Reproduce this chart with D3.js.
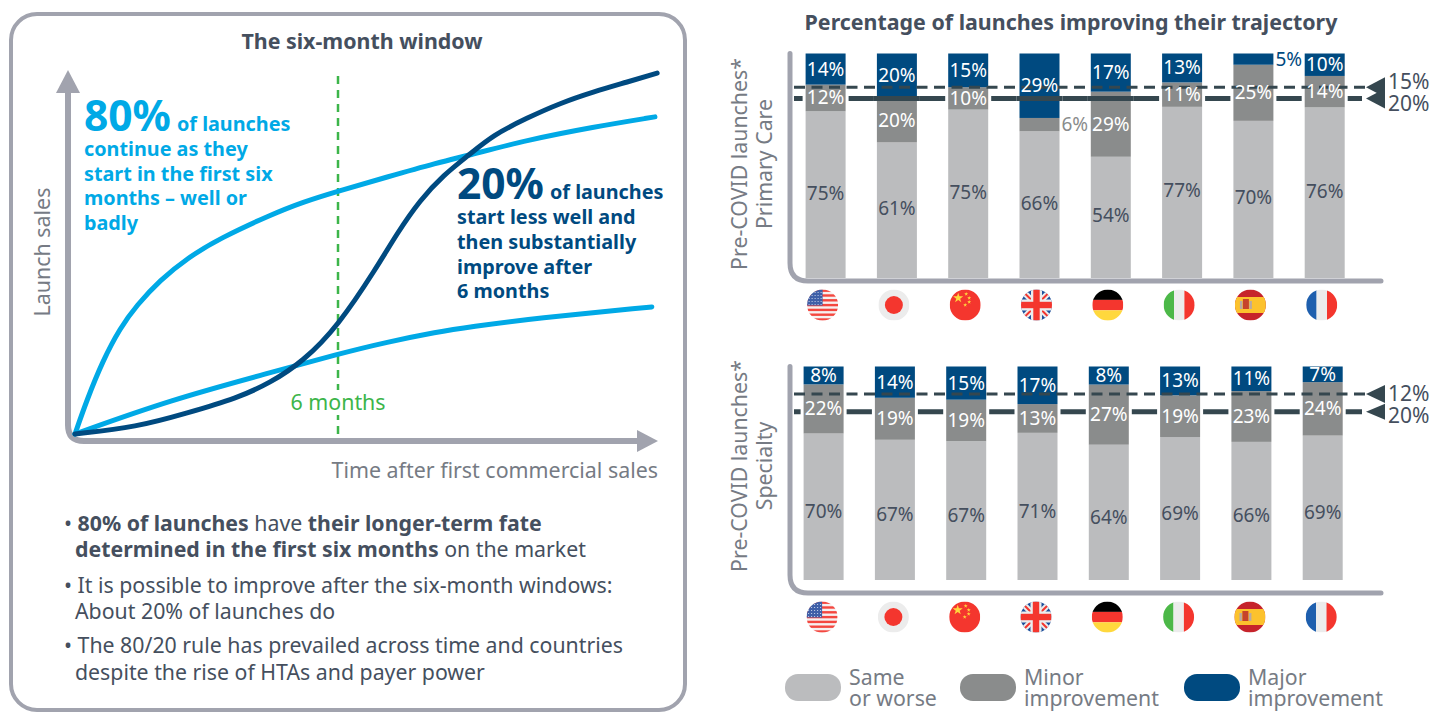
<!DOCTYPE html>
<html>
    <head>
        <meta charset='UTF-8'>
        <title>Six-month window</title>
        <script src='https://d3js.org/d3.v7.min.js'></script>
        <style type='text/css'>
        html, body { margin: 0; padding: 0; background: #fff; }
        svg { display: block; font-family: "Noto Sans", sans-serif; }
        </style>
    </head>
    <body>
        <div id="container"></div>
    <script>
        // bar data
        var countries = ["US", "JP", "CN", "UK", "DE", "IT", "ES", "FR"];
        var seriesKeys = ["same", "minor", "major"];
        var legendLabels = [["Same", "or worse"], ["Minor", "improvement"], ["Major", "improvement"]];

        var pcSame  = [75, 61, 75, 66, 54, 77, 70, 76];
        var pcMinor = [12, 20, 10, 6, 29, 11, 25, 14];
        var pcMajor = [14, 20, 15, 29, 17, 13, 5, 10];
        var pcRefs  = [15, 20];

        var spSame  = [70, 67, 67, 71, 64, 69, 66, 69];
        var spMinor = [22, 19, 19, 13, 27, 19, 23, 24];
        var spMajor = [8, 14, 15, 17, 8, 13, 11, 7];
        var spRefs  = [12, 20];

        // curves of the left chart: months after launch / sales index
        var upperMonths = [0, 0.27, 0.64, 1.03, 1.41, 1.94, 2.56, 3.31, 4.45, 5.2, 6, 7.12, 8.26, 9.01, 10.31, 11.82, 13.23];
        var upperSales  = [0, 9.4, 20.4, 29.3, 35.6, 42.5, 48.6, 54.1, 60.5, 64.1, 67.1, 71, 74.9, 77.1, 81.2, 84.8, 87.6];
        var lowerMonths = [0, 2.17, 4.45, 6, 7.12, 8.26, 9.01, 10.5, 13.16];
        var lowerSales  = [0, 9.4, 16.9, 22.1, 25.4, 28.2, 29.6, 32, 35.1];
        var darkMonths  = [0, 1.41, 2.56, 3.7, 4.45, 5.2, 6, 6.89, 7.35, 7.87, 8.4, 9.01, 9.54, 10.31, 11.07, 11.82, 12.59, 13.28];
        var darkSales   = [0, 1.9, 5.8, 9.9, 14.1, 20, 29.8, 46.1, 55.5, 64.6, 71.5, 77.3, 82.6, 87.3, 91.4, 94.5, 97.2, 99.7];

        var GREY_AXIS = "#a1a3ae", TEXT_DARK = "#454f5e", TEXT_GREY = "#767b84", LINE_DARK = "#35474f";
        var CYAN = "#00a9e6", NAVY = "#004a80", GREEN = "#3cb54a";
        var colors = {same: "#bbbcbe", minor: "#8a8c8c", major: "#004a80"};

        var svg = d3.select("#container").append("svg")
            .attr("width", 1445)
            .attr("height", 713);
        var defs = svg.append("defs");

        function addText(parent, x, y, str, size, fill, weight, anchor) {
            return parent.append("text")
                .attr("x", x).attr("y", y)
                .attr("font-size", size)
                .attr("font-weight", weight || 400)
                .attr("text-anchor", anchor || "start")
                .attr("dominant-baseline", "central")
                .attr("fill", fill)
                .text(str);
        }

        function rotatedText(x, y, str, size, fill) {
            svg.append("text")
                .attr("transform", "translate(" + x + "," + y + ") rotate(-90)")
                .attr("font-size", size)
                .attr("text-anchor", "middle")
                .attr("dominant-baseline", "central")
                .attr("fill", fill)
                .text(str);
        }

        // L shaped axis with a rounded corner
        function lAxis(x, top, y, right, radius) {
            var p = d3.path();
            p.moveTo(x, top);
            p.lineTo(x, y - radius);
            p.quadraticCurveTo(x, y, x + radius, y);
            p.lineTo(right, y);
            return p.toString();
        }

        /* ---------- left panel ---------- */
        svg.append("rect")
            .attr("x", 11).attr("y", 14)
            .attr("width", 674).attr("height", 696)
            .attr("rx", 26)
            .attr("fill", "#fff")
            .attr("stroke", GREY_AXIS)
            .attr("stroke-width", 4);

        addText(svg, 362, 40, "The six-month window", 21.4, TEXT_DARK, 700, "middle");

        var x = d3.scaleLinear().domain([0, 13.3]).range([75, 658]);
        var y = d3.scaleLinear().domain([0, 100]).range([434, 72]);

        svg.append("path")
            .attr("d", lAxis(68, 90, 441, 640, 16))
            .attr("fill", "none")
            .attr("stroke", GREY_AXIS)
            .attr("stroke-width", 6);
        svg.append("path").attr("d", "M68,70L80,93L56,93Z").attr("fill", GREY_AXIS);
        svg.append("path").attr("d", "M658,441L637,430L637,452Z").attr("fill", GREY_AXIS);

        svg.append("line")
            .attr("x1", x(6)).attr("x2", x(6))
            .attr("y1", 76).attr("y2", 439)
            .attr("stroke", GREEN)
            .attr("stroke-width", 2.5)
            .attr("stroke-dasharray", "8,6");

        var curve = d3.line()
            .x(function(d) { return x(d[0]); })
            .y(function(d) { return y(d[1]); })
            .curve(d3.curveBasis);

        [[upperMonths, upperSales, CYAN], [lowerMonths, lowerSales, CYAN], [darkMonths, darkSales, NAVY]].forEach(function(c) {
            svg.append("path")
                .attr("d", curve(d3.zip(c[0], c[1])))
                .attr("fill", "none")
                .attr("stroke", c[2])
                .attr("stroke-width", 5)
                .attr("stroke-linecap", "round");
        });

        svg.append("rect").attr("x", 288).attr("y", 390).attr("width", 100).attr("height", 25).attr("fill", "#fff");
        addText(svg, 338, 401, "6 months", 21.4, GREEN, 400, "middle");

        rotatedText(41, 252, "Launch sales", 21.4, TEXT_GREY);
        addText(svg, 658, 469, "Time after first commercial sales", 21.4, TEXT_GREY, 400, "end");

        // callouts
        function callout(left, top, color, big, lines, step) {
            var t = svg.append("text")
                .attr("x", left).attr("y", top)
                .attr("fill", color)
                .attr("font-weight", 700);
            t.append("tspan").attr("font-size", 42.5).text(big);
            t.append("tspan").attr("font-size", 19.8).attr("dx", 6).text("of launches");
            lines.forEach(function(str, i) {
                svg.append("text")
                    .attr("x", left).attr("y", top + 25 + step * i)
                    .attr("fill", color)
                    .attr("font-size", 19.8)
                    .attr("font-weight", 700)
                    .text(str);
            });
        }
        callout(84, 131, CYAN, "80%", ["continue as they", "start in the first six", "months \u2013 well or", "badly"], 24.7);
        callout(457, 199, NAVY, "20%", ["start less well and", "then substantially", "improve after", "6 months"], 24.8);

        // bullets
        var bullets = [
            [64, 521.5, [["\u2022 ", 400], ["80% of launches", 700], [" have ", 400], ["their longer-term fate", 700]]],
            [75, 547.5, [["determined in the first six months", 700], [" on the market", 400]]],
            [64, 583.5, [["\u2022 It is possible to improve after the six-month windows:", 400]]],
            [75, 609.5, [["About 20% of launches do", 400]]],
            [64, 643.5, [["\u2022 The 80/20 rule has prevailed across time and countries", 400]]],
            [75, 670.5, [["despite the rise of HTAs and payer power", 400]]]
        ];
        bullets.forEach(function(b) {
            var t = addText(svg, b[0], b[1], "", 21.3, TEXT_DARK);
            b[2].forEach(function(run) {
                t.append("tspan").attr("font-weight", run[1]).text(run[0]);
            });
        });

        /* ---------- right panels ---------- */
        addText(svg, 1071, 21, "Percentage of launches improving their trajectory", 21.4, TEXT_DARK, 700, "middle");

        function drawFlag(g, code, id) {
            var r = 15.5;
            defs.append("clipPath").attr("id", id).append("circle").attr("r", r);
            var f = g.append("g").attr("clip-path", "url(#" + id + ")");
            function box(bx, by, w, h, fill) {
                f.append("rect").attr("x", bx).attr("y", by).attr("width", w).attr("height", h).attr("fill", fill);
            }
            var red = "#f4362e", white = "#ececec";
            if (code == "US") {
                box(-r, -r, 2 * r, 2 * r, "#f6f0f0");
                d3.range(7).forEach(function(i) {
                    box(-r, -r + i * 4.8, 2 * r, 2.4, "#f4473f");
                });
                box(-r, -r, 15.5, 16, "#3f5fa8");
                d3.range(5).forEach(function(i) {
                    d3.range(5).forEach(function(j) {
                        box(-14 + i * 3, -13 + j * 3, 1, 1, "#c8d2ea");
                    });
                });
            }
            else if (code == "JP") {
                box(-r, -r, 2 * r, 2 * r, white);
                f.append("circle").attr("r", 9).attr("fill", red);
            }
            else if (code == "CN") {
                box(-r, -r, 2 * r, 2 * r, red);
                var star = d3.symbol().type(d3.symbolStar);
                [[-7, -7, 32], [1, -11, 5], [4, -7, 5], [4, -3, 5], [0, 0, 5]].forEach(function(s) {
                    f.append("path")
                        .attr("d", star.size(s[2])())
                        .attr("transform", "translate(" + s[0] + "," + s[1] + ")")
                        .attr("fill", "#ffd83d");
                });
            }
            else if (code == "UK") {
                box(-r, -r, 2 * r, 2 * r, "#1c4f9c");
                f.append("path").attr("d", "M-16,-16L16,16M16,-16L-16,16").attr("stroke", white).attr("stroke-width", 6);
                f.append("path").attr("d", "M-16,-16L16,16M16,-16L-16,16").attr("stroke", red).attr("stroke-width", 2);
                box(-r, -5.5, 2 * r, 11, white);
                box(-5.5, -r, 11, 2 * r, white);
                box(-r, -3.2, 2 * r, 6.4, red);
                box(-3.2, -r, 6.4, 2 * r, red);
            }
            else if (code == "DE") {
                box(-r, -r, 2 * r, 10.4, "#000");
                box(-r, -r + 10.4, 2 * r, 10.4, red);
                box(-r, -r + 20.8, 2 * r, 10.4, "#ffd83d");
            }
            else if (code == "IT" || code == "FR") {
                box(-r, -r, 10.4, 2 * r, code == "IT" ? "#4cb848" : "#1e5fae");
                box(-r + 10.4, -r, 10.4, 2 * r, white);
                box(-r + 20.8, -r, 10.4, 2 * r, red);
            }
            else if (code == "ES") {
                box(-r, -r, 2 * r, 2 * r, "#c6232b");
                box(-r, -8, 2 * r, 16, "#fcc22d");
                box(-10.5, -4, 2.5, 8, "#b9a9a0");
                box(-7.5, -6, 6, 10, "#c6432b");
                box(-1, -4, 2.5, 8, "#b9a9a0");
            }
        }

        function drawPanel(cfg) {
            var rows = countries.map(function(c, i) {
                return {country: c, same: cfg.same[i], minor: cfg.minor[i], major: cfg.major[i]};
            });
            var stack = d3.stack().keys(seriesKeys).offset(d3.stackOffsetExpand)(rows);

            var xBand = d3.scaleBand()
                .domain(countries)
                .range(cfg.xRange)
                .paddingInner(0.439)
                .paddingOuter(0);
            var yPct = d3.scaleLinear().domain(cfg.yDomain).range(cfg.yRange);
            var refY = function(v) { return yPct(1 - v / 100) + cfg.refDy; };

            // axis
            svg.append("path")
                .attr("d", lAxis(790, cfg.top, cfg.axisY, 1381, 18))
                .attr("fill", "none")
                .attr("stroke", GREY_AXIS)
                .attr("stroke-width", 5)
                .attr("stroke-linecap", "round");

            // solid reference line goes behind the bars
            var solid = function(x1, x2) {
                svg.append("line")
                    .attr("x1", x1).attr("x2", x2)
                    .attr("y1", refY(cfg.refs[1])).attr("y2", refY(cfg.refs[1]))
                    .attr("stroke", LINE_DARK)
                    .attr("stroke-width", 5);
            };
            solid(794, 1362);

            // thin white halo round each column, it cuts the line a little short of the bar
            svg.append("g").selectAll("rect")
                .data(countries)
                .enter().append("rect")
                .attr("x", function(d) { return xBand(d) - 3; })
                .attr("width", xBand.bandwidth() + 6)
                .attr("y", cfg.top)
                .attr("height", cfg.bottom - cfg.top)
                .attr("fill", "#fff");

            var layers = svg.append("g").selectAll("g")
                .data(stack)
                .enter().append("g")
                .attr("fill", function(d) { return colors[d.key]; });
            layers.selectAll("rect")
                .data(function(d) { return d; })
                .enter().append("rect")
                .attr("x", function(d) { return xBand(d.data.country); })
                .attr("width", xBand.bandwidth())
                .attr("y", function(d) { return yPct(d[1]); })
                .attr("height", function(d) { return yPct(d[0]) - yPct(d[1]); });

            // the line stays on top of a few of the bars
            cfg.lineOver.forEach(function(c) {
                solid(xBand(c) - 3, xBand(c) + xBand.bandwidth() + 3);
            });

            // dashed reference line
            svg.append("line")
                .attr("x1", 794).attr("x2", 1370)
                .attr("y1", refY(cfg.refs[0])).attr("y2", refY(cfg.refs[0]))
                .attr("stroke", LINE_DARK)
                .attr("stroke-width", 3)
                .attr("stroke-dasharray", "11,6.5");

            // value labels
            stack.forEach(function(layer) {
                layer.forEach(function(d) {
                    var value = d.data[layer.key];
                    var mid = (yPct(d[0]) + yPct(d[1])) / 2 - 0.5;
                    if(value <= 6) {
                        addText(svg, xBand(d.data.country) + xBand.bandwidth() + 2, mid, value + "%", 19, layer.key == "major" ? NAVY : colors[layer.key]);
                    }
                    else {
                        var dy = layer.key == "same" ? cfg.sameDy : 0;
                        addText(svg, xBand(d.data.country) + xBand.bandwidth() / 2, mid + dy, value + "%", 19,
                            layer.key == "same" ? TEXT_DARK : "#fff", 400, "middle");
                    }
                });
            });

            // reference markers
            cfg.refs.forEach(function(v, i) {
                var my = refY(v);
                svg.append("path")
                    .attr("d", "M1366," + my + "L1385," + (my - cfg.tri[i]) + "L1385," + (my + cfg.tri[i]) + "Z")
                    .attr("fill", LINE_DARK);
                addText(svg, 1388, my + cfg.refLabelDy[i], v + "%", 21, TEXT_DARK);
            });

            // flags
            countries.forEach(function(c) {
                var g = svg.append("g")
                    .attr("transform", "translate(" + (xBand(c) + xBand.bandwidth() / 2 + cfg.flagDx) + "," + cfg.flagY + ")");
                drawFlag(g, c, cfg.id + "-" + c);
            });

            rotatedText(738, cfg.labelY, "Pre-COVID launches*", 21.3, TEXT_GREY);
            rotatedText(763, cfg.labelY, cfg.name, 21.3, TEXT_GREY);
        }

        drawPanel({
            id: "pc", name: "Primary Care",
            same: pcSame, minor: pcMinor, major: pcMajor, refs: pcRefs,
            xRange: [805.6, 1344.7], top: 53.5, bottom: 278, axisY: 281,
            yDomain: [0, 1], yRange: [278, 53.5],
            refDy: 0, sameDy: -1.5, lineOver: ["JP", "UK", "DE"],
            tri: [10, 10], refLabelDy: [-6, 5],
            flagDx: -3, flagY: 305, labelY: 164
        });
        // lower panel: the grey part of the column is drawn a little shorter than the rest
        drawPanel({
            id: "sp", name: "Specialty",
            same: spSame, minor: spMinor, major: spMajor, refs: spRefs,
            xRange: [803.6, 1342.7], top: 366.5, bottom: 580, axisY: 593,
            yDomain: [0, 0.7, 1], yRange: [580, 433.5, 366.5],
            refDy: 0.7, sameDy: 5, lineOver: [],
            tri: [9, 8], refLabelDy: [-1, 3],
            flagDx: -1.5, flagY: 617, labelY: 466
        });

        // legend
        var legendX = d3.scaleOrdinal().domain(seriesKeys).range([785, 960, 1184]);
        seriesKeys.forEach(function(k, i) {
            svg.append("rect")
                .attr("x", legendX(k)).attr("y", 674)
                .attr("width", 56).attr("height", 27)
                .attr("rx", 13)
                .attr("fill", colors[k]);
            var t = svg.append("text")
                .attr("font-size", 21.3)
                .attr("fill", TEXT_GREY);
            legendLabels[i].forEach(function(str, j) {
                t.append("tspan")
                    .attr("x", legendX(k) + 64)
                    .attr("y", 685 + j * 21)
                    .text(str);
            });
        });
    </script>
    </body>
</html>
